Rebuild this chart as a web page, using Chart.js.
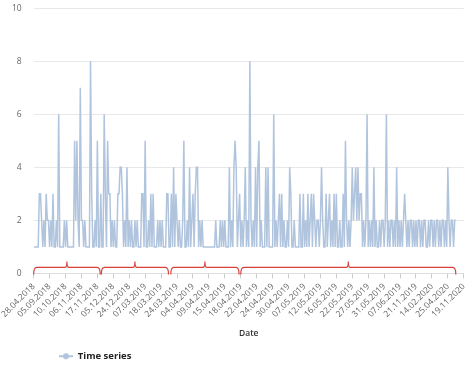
<!DOCTYPE html>
<html>
<head>
<meta charset="utf-8">
<script src="https://cdn.jsdelivr.net/npm/chart.js@4.4.0/dist/chart.umd.min.js"></script>
<style>
  html, body { margin: 0; padding: 0; background: #fff; }
  #wrap { width: 474px; height: 369px; }
</style>
</head>
<body>
<div id="wrap"><canvas id="data-chart"></canvas></div>
<script>
// chart data
const seriesName = 'Time series';
const axisTitle = 'Date';
const tickLabels = [
    '28.04.2018', '05.09.2018', '10.10.2018', '06.11.2018', '17.11.2018', '05.12.2018', '24.12.2018',
    '07.03.2019', '18.03.2019', '24.03.2019', '04.04.2019', '09.04.2019', '15.04.2019', '18.04.2019',
    '22.04.2019', '24.04.2019', '30.04.2019', '07.05.2019', '12.05.2019', '16.05.2019', '22.05.2019',
    '27.05.2019', '31.05.2019', '07.06.2019', '21.11.2019', '14.02.2020', '25.04.2020', '19.11.2020'
];
const pointsPerTick = 14;
const values = [
    1,1,1,1,1,3,3,2,1,2,1,3,2,2,
    1,2,1,3,1,1,2,1,6,1,1,1,1,2,
    1,2,1,1,1,1,1,1,5,2,5,2,1,7,
    2,2,1,2,1,1,1,1,8,3,1,1,2,1,
    5,1,1,3,1,1,6,3,1,5,3,3,1,2,
    1,2,1,1,3,3,4,4,3,1,2,1,4,1,
    2,1,2,1,1,2,1,2,1,1,1,3,3,1,
    5,1,1,2,1,3,1,3,1,1,1,2,1,2,
    1,2,1,1,1,3,3,1,1,3,1,4,1,3,
    2,1,2,1,1,2,5,1,1,2,1,4,1,2,
    3,1,3,4,4,1,2,1,2,1,1,1,1,1,
    1,1,1,1,1,1,2,1,1,1,2,1,2,1,
    2,1,1,1,4,1,2,1,4,5,4,1,2,3,
    1,2,1,2,4,1,2,1,8,2,1,2,1,4,
    1,4,5,1,2,1,1,1,4,1,4,1,1,1,
    1,6,1,2,1,2,3,1,3,1,2,1,1,2,
    1,4,3,1,1,2,1,1,1,1,3,1,1,3,
    1,2,1,3,1,2,3,1,3,2,1,2,2,1,
    2,4,2,1,1,3,1,2,3,1,2,1,3,1,
    3,1,1,2,1,1,3,1,5,2,1,2,1,2,
    4,2,3,4,2,4,2,3,3,1,2,1,2,6,
    1,2,1,2,1,4,1,2,1,1,2,1,2,2,
    1,2,6,1,2,1,2,2,1,2,1,4,1,2,
    1,2,1,2,3,2,1,2,1,2,2,1,2,1,
    2,1,2,2,1,2,1,2,2,1,1,2,1,2,
    2,1,2,1,2,2,1,2,1,2,2,1,2,1,
    4,2,1,2,2,1,2,2
];
const yMin = 0;
const yMax = 10;
const yStep = 2;
// groups marked with red braces under the series (point index ranges)
const bracketRanges = [[0, 58.5], [59.5, 118.5], [120.5, 180.5], [182, 371]];

const lineColor = '#b0c4de';
const fontFamily = "'Open Sans', sans-serif";

// legend marker: short line with a dot
const marker = document.createElement('canvas');
marker.width = 14;
marker.height = 8;
const mctx = marker.getContext('2d');
mctx.strokeStyle = lineColor;
mctx.lineWidth = 2;
mctx.beginPath();
mctx.moveTo(0, 4);
mctx.lineTo(14, 4);
mctx.stroke();
mctx.fillStyle = lineColor;
mctx.beginPath();
mctx.arc(7, 4, 3, 0, Math.PI * 2);
mctx.fill();

const bracketPlugin = {
    id: 'brackets',
    afterDatasetsDraw(chart) {
        const { ctx, scales: { x, y } } = chart;
        const base = y.getPixelForValue(0);
        const yl = base - 6;
        const r = 3;
        ctx.save();
        ctx.strokeStyle = '#d8403a';
        ctx.lineWidth = 1.2;
        bracketRanges.forEach(([a, b]) => {
            const x0 = x.getPixelForValue(a);
            const x1 = x.getPixelForValue(b);
            const mid = (x0 + x1) / 2;
            ctx.beginPath();
            ctx.moveTo(x0, base + 1);
            ctx.quadraticCurveTo(x0, yl, x0 + r, yl);
            ctx.lineTo(mid - 2, yl);
            ctx.quadraticCurveTo(mid, yl, mid, yl - 6);
            ctx.quadraticCurveTo(mid, yl, mid + 2, yl);
            ctx.lineTo(x1 - r, yl);
            ctx.quadraticCurveTo(x1, yl, x1, base + 1);
            ctx.stroke();
        });
        ctx.restore();
    }
};

// move the legend in from the left edge and a bit down
const legendShift = {
    id: 'legendShift',
    afterLayout(chart) {
        chart.legend.left += 46;
        chart.legend.right += 46;
        chart.legend.top += 2;
        chart.legend.bottom += 2;
    }
};

const ctx = document.getElementById('data-chart').getContext('2d');
const chart = new Chart(ctx, {
    type: 'line',
    data: {
        datasets: [{
            label: seriesName,
            data: values.map((v, i) => ({ x: i, y: v })),
            borderColor: lineColor,
            backgroundColor: lineColor,
            borderWidth: 1.5,
            pointRadius: 0,
            tension: 0,
            fill: false
        }]
    },
    options: {
        responsive: true,
        maintainAspectRatio: false,
        animation: false,
        layout: { padding: { top: 3, right: 2, bottom: 0, left: 5 } },
        scales: {
            x: {
                type: 'linear',
                min: 0,
                max: (tickLabels.length - 1) * pointsPerTick,
                afterBuildTicks: axis => {
                    axis.ticks = tickLabels.map((_, i) => ({ value: i * pointsPerTick }));
                },
                ticks: {
                    autoSkip: false,
                    maxRotation: 45,
                    minRotation: 45,
                    padding: 3,
                    color: '#5f5f5f',
                    font: { family: fontFamily, size: 8.5 },
                    callback: (v, i) => tickLabels[i]
                },
                grid: { drawOnChartArea: false, drawTicks: true, tickLength: 5, color: '#ccc' },
                border: { color: '#ddd' },
                title: {
                    display: true,
                    text: axisTitle,
                    color: '#333',
                    font: { family: fontFamily, size: 8.5, weight: '600' },
                    padding: { top: 6, bottom: 3 }
                }
            },
            y: {
                min: yMin,
                max: yMax,
                ticks: {
                    stepSize: yStep,
                    padding: 3,
                    color: '#666',
                    font: { family: fontFamily, size: 8.5 }
                },
                grid: { color: '#e8e8e8', drawTicks: true, tickLength: 9, tickColor: 'rgba(0,0,0,0)' },
                border: { display: false }
            }
        },
        plugins: {
            legend: {
                position: 'bottom',
                align: 'start',
                labels: {
                    usePointStyle: true,
                    pointStyle: marker,
                    pointStyleWidth: 14,
                    boxHeight: 8,
                    padding: 8,
                    color: '#222',
                    font: { family: fontFamily, size: 9.5, weight: 'bold' }
                }
            },
            tooltip: { enabled: false }
        }
    },
    plugins: [bracketPlugin, legendShift]
});
</script>
</body>
</html>
